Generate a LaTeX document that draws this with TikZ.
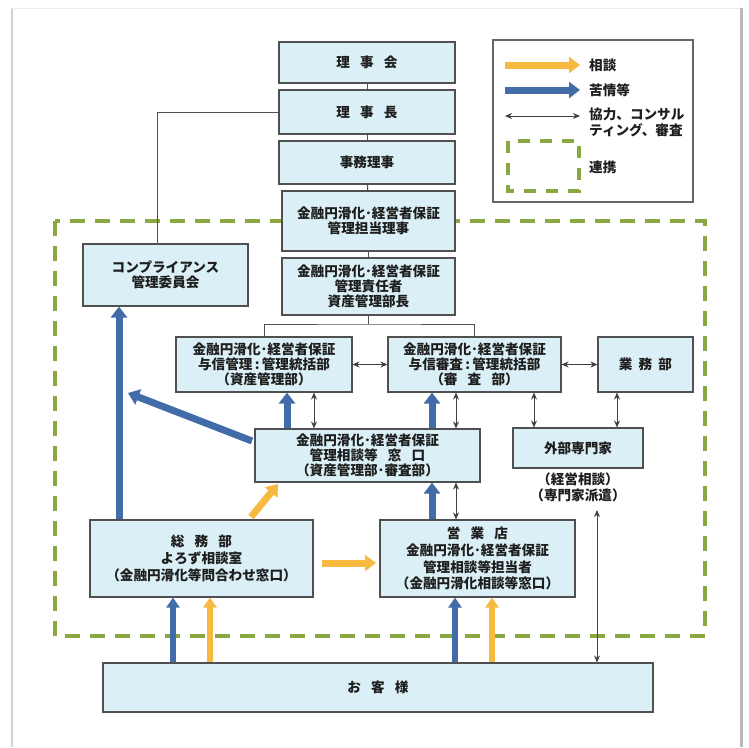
\documentclass[tikz,border=0pt]{standalone}
\usepackage{fontspec}
\setmainfont{Noto Sans CJK JP}
\usetikzlibrary{arrows.meta}
\definecolor{boxfill}{RGB}{218,240,246}
\definecolor{boxline}{RGB}{80,80,80}
\definecolor{blueA}{RGB}{66,108,168}
\definecolor{orangeA}{RGB}{246,186,64}
\definecolor{greenD}{RGB}{138,168,66}
\definecolor{txt}{RGB}{30,30,30}
\newcommand\jsp{\hspace{0.75em}}
\newcommand\jdot{･}
\begin{document}
\begin{tikzpicture}[x=1pt,y=-1pt,
  box/.style={draw=boxline, fill=boxfill, line width=1.1pt, inner sep=0pt, align=center,
    font=\fontsize{13.6}{14.8}\selectfont\bfseries, text=txt},
  boxw/.style={box, font=\fontsize{13.6}{16.8}\selectfont\bfseries},
  lbl/.style={inner sep=0pt, align=center, font=\fontsize{13.6}{15.8}\selectfont\bfseries, text=txt},
  conn/.style={draw=boxline, line width=1pt},
  dbl/.style={draw=black!75, line width=0.9pt, {Stealth[length=7pt,width=6pt]}-{Stealth[length=7pt,width=6pt]}},
  blarr/.style={draw=blueA, line width=7pt, -{Triangle[width=16pt,length=11pt]}},
  orarr/.style={draw=orangeA, line width=7pt, -{Triangle[width=16pt,length=11pt]}},
  blarrs/.style={draw=blueA, line width=5.5pt, -{Triangle[width=13pt,length=10pt]}},
  orarrs/.style={draw=orangeA, line width=5.5pt, -{Triangle[width=13pt,length=10pt]}},
  link/.style={draw=greenD, line width=3.5pt, dash pattern=on 15pt off 10pt}
]
\useasboundingbox (0,0) rectangle (749,747);
% page frame
\draw[gray!35, line width=1.5pt] (12,747) -- (12,8);
\draw[gray!15, line width=1pt] (12,8) -- (741,8);
\draw[gray!55, line width=3pt] (741,8) -- (741,747);

% cooperation area
\draw[link] (55,221) rectangle (705,636);

% coordinates for x positions
\coordinate (x119) at (119,0);
\coordinate (x157) at (157,0);
\coordinate (x173) at (173,0);
\coordinate (x210) at (210,0);
\coordinate (x287) at (287,0);
\coordinate (x314) at (314,0);
\coordinate (x432) at (432,0);
\coordinate (x455) at (455,0);
\coordinate (x456) at (456,0);
\coordinate (x492) at (492,0);
\coordinate (x534) at (534,0);
\coordinate (x597) at (597,0);
\coordinate (x617) at (617,0);

% nodes
\node[box, minimum width=176pt, minimum height=41pt] (rijikai) at (367,62.5) {理\jsp 事\jsp 会};
\node[box, minimum width=176pt, minimum height=44pt] (rijicho) at (367,112) {理\jsp 事\jsp 長};
\node[box, minimum width=176pt, minimum height=43pt] (jimu) at (367,162.5) {事務理事};
\node[box, minimum width=173pt, minimum height=60pt] (tanto) at (368.5,221) {金融円滑化\jdot 経営者保証\\管理担当理事};
\node[box, minimum width=173pt, minimum height=57pt] (sekinin) at (368.5,286.5) {金融円滑化\jdot 経営者保証\\管理責任者\\資産管理部長};
\node[box, minimum width=165pt, minimum height=62pt] (comp) at (165.5,275) {コンプライアンス\\管理委員会};
\node[box, minimum width=176pt, minimum height=55pt] (yoshin) at (264,364.5) {金融円滑化\jdot 経営者保証\\与信管理\,:\,管理統括部\\（資産管理部）};
\node[box, minimum width=173pt, minimum height=55pt] (shinsa) at (474.5,364.5) {金融円滑化\jdot 経営者保証\\与信審査\,:\,管理統括部\\（審\jsp 査\jsp 部）};
\node[box, minimum width=95pt, minimum height=55pt] (gyomu) at (645.5,364.5) {業\hspace{0.45em}務\hspace{0.45em}部};
\node[box, minimum width=130pt, minimum height=40pt] (gaibu) at (578,448) {外部専門家};
\node[lbl] (keiei) at (578,487) {（経営相談）\\（専門家派遣）};
\node[box, minimum width=225pt, minimum height=53pt] (mado) at (367.5,455.5) {金融円滑化\jdot 経営者保証\\管理相談等\jsp 窓\jsp 口\\（資産管理部\jdot 審査部）};
\node[boxw, minimum width=223pt, minimum height=77pt] (somu) at (201.5,558.5) {総\jsp 務\jsp 部\\よろず相談室\\（金融円滑化等問合わせ窓口）};
\node[boxw, minimum width=195pt, minimum height=77pt] (eigyo) at (477.5,558.5) {営\jsp 業\jsp 店\\金融円滑化\jdot 経営者保証\\管理相談等担当者\\（金融円滑化相談等窓口）};
\node[box, minimum width=550pt, minimum height=49pt] (okyaku) at (378,687.5) {お\jsp 客\jsp 様};

% hierarchy lines
\draw[conn] (rijikai) -- (rijicho);
\draw[conn] (rijicho) -- (jimu);
\draw[conn] (jimu) -- (tanto);
\draw[conn] (tanto) -- (sekinin);
\draw[conn] (rijicho.west) -| (x157 |- comp.north);
\coordinate (bj) at (368.5,324);
\draw[conn] (sekinin.south) -- (bj);
\draw[conn] (yoshin.north) |- (bj) -| (shinsa.north);

% thin double arrows
\draw[dbl] (yoshin.east) -- (shinsa.west);
\draw[dbl] (shinsa.east) -- (gyomu.west);
\draw[dbl] (x534 |- shinsa.south) -- (x534 |- gaibu.north);
\draw[dbl] (x617 |- gyomu.south) -- (x617 |- gaibu.north);
\draw[dbl] (x314 |- yoshin.south) -- (x314 |- mado.north);
\draw[dbl] (x456 |- shinsa.south) -- (x456 |- mado.north);
\draw[dbl] (x456 |- mado.south) -- (x456 |- eigyo.north);
\coordinate (kfree) at (597,510);
\draw[dbl] (kfree) -- (x597 |- okyaku.north);

% complaint arrows (blue)
\draw[blarr] (x287 |- mado.north) -- (x287 |- yoshin.south);
\draw[blarr] (x432 |- mado.north) -- (x432 |- shinsa.south);
\draw[blarr] (x432 |- eigyo.north) -- (x432 |- mado.south);
\draw[blarr] (x119 |- somu.north) -- (x119 |- comp.south);
\coordinate (dgs) at (252,441);
\coordinate (dge) at (128,393);
\draw[blarr] (dgs) -- (dge);
\draw[blarrs] (x173 |- okyaku.north) -- (x173 |- somu.south);
\draw[blarrs] (x455 |- okyaku.north) -- (x455 |- eigyo.south);

% consultation arrows (orange)
\draw[orarrs] (x210 |- okyaku.north) -- (x210 |- somu.south);
\draw[orarrs] (x492 |- okyaku.north) -- (x492 |- eigyo.south);
\coordinate (hs) at (322,563);
\coordinate (he) at (376,563);
\draw[orarr] (hs) -- (he);
\coordinate (ods) at (251,517);
\coordinate (ode) at (278,484);
\draw[orarr] (ods) -- (ode);

% legend
\draw[draw=black!60, line width=1.2pt] (493,40) rectangle (693,202);
\coordinate (l1a) at (505,65); \coordinate (l1b) at (580,65);
\coordinate (l2a) at (505,90); \coordinate (l2b) at (580,90);
\coordinate (l3a) at (505,116); \coordinate (l3b) at (580,116);
\draw[orarr] (l1a) -- (l1b);
\draw[blarr] (l2a) -- (l2b);
\draw[dbl] (l3a) -- (l3b);
\draw[link, dash pattern=on 12pt off 10pt] (508,141) rectangle (579,191);
\node[lbl, anchor=west] (t1) at (589,65) {相談};
\node[lbl, anchor=west] (t2) at (589,90) {苦情等};
\node[lbl, anchor=west, align=left] (t3) at (589,122) {協力、コンサル\\ティング、審査};
\node[lbl, anchor=west] (t4) at (589,167) {連携};
\end{tikzpicture}
\end{document}
